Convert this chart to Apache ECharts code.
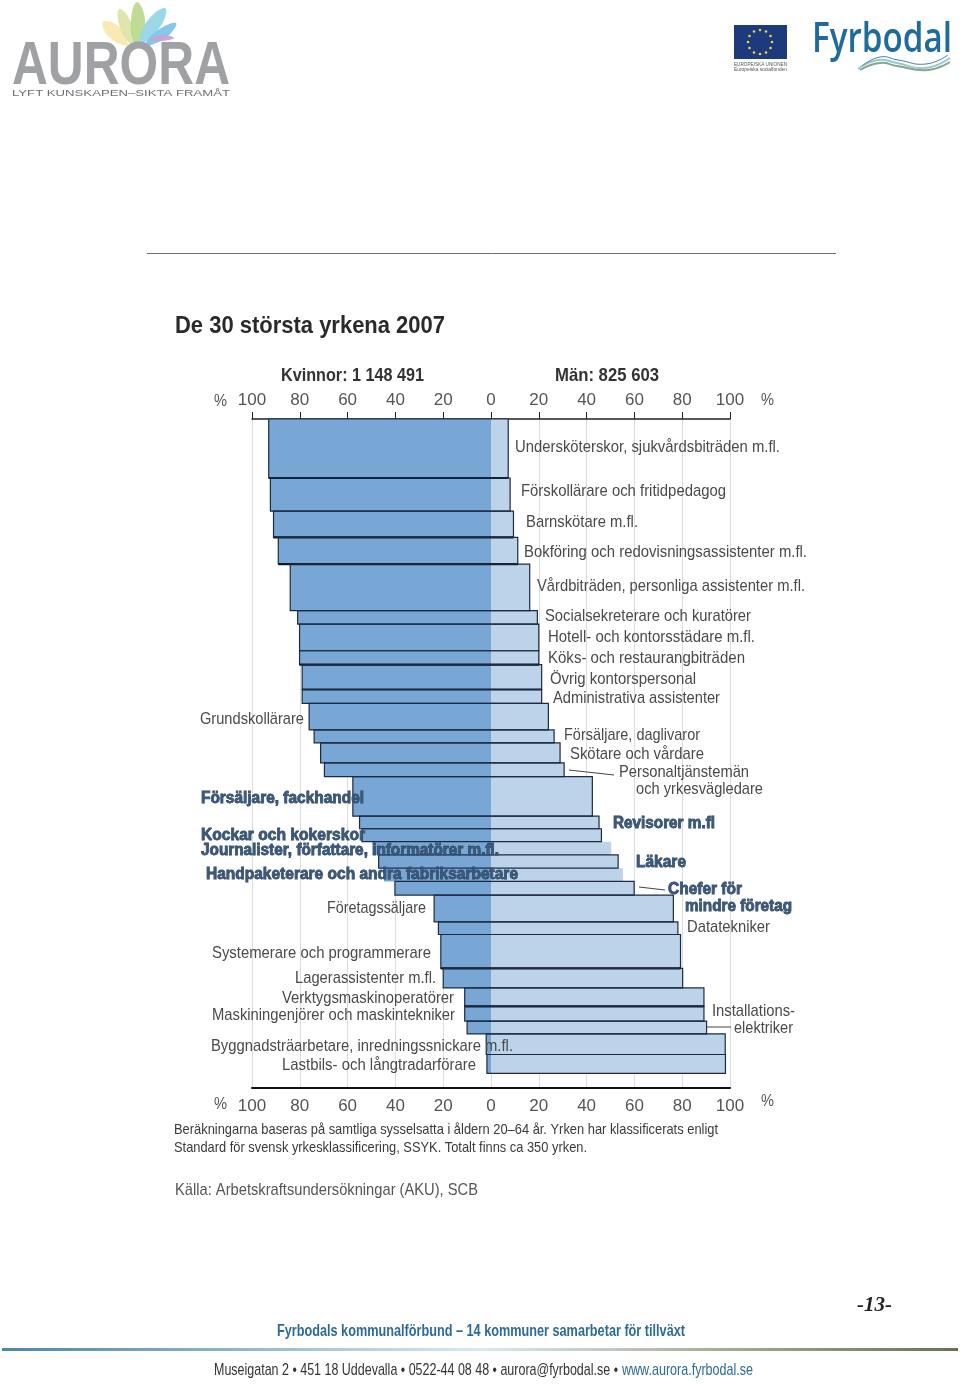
<!DOCTYPE html>
<html>
<head>
<meta charset="utf-8">
<title>De 30 största yrkena 2007</title>
<style>
html,body{margin:0;padding:0;background:#fff;}
#main{width:960px;height:1384px;}
</style>
<script src="https://cdn.jsdelivr.net/npm/echarts@6/dist/echarts.min.js"></script>
</head>
<body>
<div id="main"></div>
<script>
// yrken, uppifrån och ned
var categories = [
    'Undersköterskor, sjukvårdsbiträden m.fl.', 'Förskollärare och fritidpedagog', 'Barnskötare m.fl.',
    'Bokföring och redovisningsassistenter m.fl.', 'Vårdbiträden, personliga assistenter m.fl.',
    'Socialsekreterare och kuratörer', 'Hotell- och kontorsstädare m.fl.', 'Köks- och restaurangbiträden',
    'Övrig kontorspersonal', 'Administrativa assistenter', 'Grundskollärare', 'Försäljare, daglivaror',
    'Skötare och vårdare', 'Personaltjänstemän och yrkesvägledare', 'Försäljare, fackhandel', 'Revisorer m.fl',
    'Kockar och kokerskor', 'Journalister, författare, informatörer m.fl.', 'Läkare',
    'Handpaketerare och andra fabriksarbetare', 'Chefer för mindre företag', 'Företagssäljare', 'Datatekniker',
    'Systemerare och programmerare', 'Lagerassistenter m.fl.', 'Verktygsmaskinoperatörer',
    'Maskiningenjörer och maskintekniker', 'Installationselektriker',
    'Byggnadsträarbetare, inredningssnickare m.fl.', 'Lastbils- och långtradarförare'
];
// antal sysselsatta, tusental (radens höjd)
var employed = [178, 100, 79, 81, 140, 41, 80, 42, 75, 42, 80, 39, 60, 42, 119, 38, 39, 40, 40, 40, 41, 81, 38, 102, 59, 56, 44, 39, 62, 57];
// andel kvinnor, procent
var womenShare = [93, 92.3, 91, 89, 84, 80.9, 80.1, 80.1, 79, 79, 76.1, 74, 71.3, 69.7, 57.8, 55, 54, 49.7, 47, 44.8, 40.2, 23.8, 22, 21, 20, 11, 11, 10, 2, 1.7];
// andel män, procent
var menShare = [7.2, 8, 9.4, 11.2, 16.2, 19.4, 20, 20, 21.2, 21.2, 24, 26.4, 28.9, 30.6, 42.4, 45.2, 46.2, 50.3, 53.2, 55.2, 59.9, 76.3, 78.2, 79.3, 80.2, 89.1, 89.1, 90.2, 98, 98.1];

var noOutline = ['Journalister, författare, informatörer m.fl.', 'Handpaketerare och andra fabriksarbetare'];
var heavyBottom = ['Undersköterskor, sjukvårdsbiträden m.fl.', 'Barnskötare m.fl.', 'Bokföring och redovisningsassistenter m.fl.',
    'Köks- och restaurangbiträden', 'Övrig kontorspersonal', 'Systemerare och programmerare', 'Verktygsmaskinoperatörer'];

// text, x, y (mitt), bredd, typ
var chartLabels = [
    ['Undersköterskor, sjukvårdsbiträden m.fl.', 515, 446, 265, 'n'],
    ['Förskollärare och fritidpedagog', 521, 490, 205, 'n'],
    ['Barnskötare m.fl.', 526, 521, 112, 'n'],
    ['Bokföring och redovisningsassistenter m.fl.', 524, 551, 283, 'n'],
    ['Vårdbiträden, personliga assistenter m.fl.', 537, 585, 268, 'n'],
    ['Socialsekreterare och kuratörer', 545, 615, 206, 'n'],
    ['Hotell- och kontorsstädare m.fl.', 548, 636, 207, 'n'],
    ['Köks- och restaurangbiträden', 548, 657, 197, 'n'],
    ['Övrig kontorspersonal', 550, 678, 146, 'n'],
    ['Administrativa assistenter', 553, 697, 167, 'n'],
    ['Grundskollärare', 200, 718, 104, 'n'],
    ['Försäljare, daglivaror', 564, 734, 136, 'n'],
    ['Skötare och vårdare', 570, 753, 134, 'n'],
    ['Personaltjänstemän', 619, 771, 130, 'n'],
    ['och yrkesvägledare', 636, 788, 127, 'n'],
    ['Försäljare, fackhandel', 201, 797, 163, 'b'],
    ['Revisorer m.fl', 613, 822, 102, 'b'],
    ['Kockar och kokerskor', 201, 834, 164, 'b'],
    ['Journalister, författare, informatörer m.fl.', 201, 849, 298, 'b'],
    ['Läkare', 636, 861, 50, 'b'],
    ['Handpaketerare och andra fabriksarbetare', 206, 873, 312, 'b'],
    ['Chefer för', 668, 888, 74, 'b'],
    ['mindre företag', 685, 905, 107, 'b'],
    ['Företagssäljare', 327, 907, 99, 'n'],
    ['Datatekniker', 687, 926, 83, 'n'],
    ['Systemerare och programmerare', 212, 952, 219, 'n'],
    ['Lagerassistenter m.fl.', 295, 977, 141, 'n'],
    ['Verktygsmaskinoperatörer', 282, 997, 172, 'n'],
    ['Maskiningenjörer och maskintekniker', 212, 1014, 243, 'n'],
    ['Installations-', 712, 1010, 83, 'n'],
    ['elektriker', 734, 1027, 59, 'n'],
    ['Byggnadsträarbetare, inredningssnickare m.fl.', 211, 1045, 302, 'n'],
    ['Lastbils- och långtradarförare', 282, 1064, 194, 'n']
];

var COLOR_WOMEN = '#78a7d5';
var COLOR_MEN = '#bcd3ea';
var COLOR_EDGE = '#1c2b42';
var BASE_FONT = '"Liberation Sans", Arial, sans-serif';

var measureCtx = document.createElement('canvas').getContext('2d');
// text som får en bestämd bredd via scaleX
function fitText(text, x, y, width, font, fill, extra) {
    measureCtx.font = font;
    var el = {
        type: 'text',
        x: x,
        y: y + 1.5,
        scaleX: width / measureCtx.measureText(text).width,
        z: 50,
        style: { text: text, font: font, fill: fill, align: 'left', verticalAlign: 'middle' }
    };
    if (extra) {
        for (var k in extra) { el.style[k] = extra[k]; }
    }
    return el;
}
function petal(points, fill) {
    return { type: 'polygon', shape: { points: points, smooth: 0.45 }, z: 5, style: { fill: fill, opacity: 0.95 } };
}
function wave(points, color, width) {
    return { type: 'polyline', shape: { points: points, smooth: 0.5 }, z: 5, style: { fill: null, stroke: color, lineWidth: width } };
}
function leader(x1, y1, x2, y2) {
    return { type: 'line', z: 40, shape: { x1: x1, y1: y1, x2: x2, y2: y2 }, style: { stroke: '#444', lineWidth: 1 } };
}

var graphics = [];
// logotyp Aurora
graphics.push(petal([[125, 46], [108, 36], [103, 22], [118, 26], [128, 44]], '#f9e8ae'));
graphics.push(petal([[130, 44], [120, 28], [119, 9], [130, 20], [133, 42]], '#dbe6a9'));
graphics.push(petal([[134, 44], [131, 20], [137, 2], [145, 20], [139, 42]], '#bcd98e'));
graphics.push(petal([[139, 42], [148, 20], [165, 8], [162, 24], [143, 44]], '#97d6e6'));
graphics.push(petal([[145, 44], [158, 30], [176, 23], [168, 36], [148, 46]], '#7cc6ea'));
graphics.push(petal([[150, 39], [162, 35], [174, 38], [162, 41], [152, 41]], '#c9a3d4'));
graphics.push(fitText('AURORA', 12, 65, 218, 'bold 62px ' + BASE_FONT, '#9fa1a4'));
graphics.push(fitText('LYFT KUNSKAPEN–SIKTA FRAMÅT', 12, 92, 218, '9px ' + BASE_FONT, '#6f7073'));
// EU-flagga
graphics.push({ type: 'rect', z: 5, shape: { x: 734, y: 25, width: 53, height: 34 }, style: { fill: '#1d3a7d' } });
[[760, 30], [766, 31.5], [770.5, 36], [772, 42], [770.5, 48], [766, 52.5], [760, 54], [754, 52.5], [749.5, 48], [748, 42], [749.5, 36], [754, 31.5]].forEach(function (p) {
    graphics.push({ type: 'circle', z: 6, shape: { cx: p[0], cy: p[1], r: 1.3 }, style: { fill: '#f2d43a' } });
});
graphics.push(fitText('EUROPEISKA UNIONEN', 734, 63, 53, '5px ' + BASE_FONT, '#555'));
graphics.push(fitText('Europeiska socialfonden', 734, 68.5, 53, '5px ' + BASE_FONT, '#555'));
// Fyrbodal
graphics.push(fitText('Fyrbodal', 812, 39, 140, '600 41px "Open Sans", ' + BASE_FONT, '#1f6c9b'));
graphics.push(wave([[858, 69], [878, 60], [897, 63], [925, 68], [950, 58]], '#9cc7cf', 2));
graphics.push(wave([[860, 70], [880, 63], [897, 66], [928, 70], [950, 62]], '#7fa98f', 2));
graphics.push(wave([[862, 66], [880, 57], [898, 60], [926, 64], [948, 55]], '#3f86ad', 1));
// linje över diagrammet
graphics.push({ type: 'line', z: 5, shape: { x1: 147, y1: 253.5, x2: 836, y2: 253.5 }, style: { stroke: '#6e6e6e', lineWidth: 1 } });
// rubriker
graphics.push(fitText('De 30 största yrkena 2007', 175, 324.5, 270, 'bold 24px ' + BASE_FONT, '#2a2a2a'));
graphics.push(fitText('Kvinnor: 1 148 491', 281, 374.5, 143, 'bold 19px ' + BASE_FONT, '#333'));
graphics.push(fitText('Män: 825 603', 555, 374.5, 104, 'bold 19px ' + BASE_FONT, '#333'));
graphics.push(fitText('%', 214, 400, 13, '16px ' + BASE_FONT, '#555'));
graphics.push(fitText('%', 761, 399, 13, '16px ' + BASE_FONT, '#555'));
graphics.push(fitText('%', 214, 1103, 13, '16px ' + BASE_FONT, '#555'));
graphics.push(fitText('%', 761, 1100, 13, '16px ' + BASE_FONT, '#555'));
// etiketter
chartLabels.forEach(function (l) {
    if (l[4] === 'b') {
        graphics.push(fitText(l[0], l[1], l[2], l[3], 'bold 16px ' + BASE_FONT, '#3a5878', { stroke: '#27405e', lineWidth: 0.8 }));
    } else {
        graphics.push(fitText(l[0], l[1], l[2], l[3], '17px ' + BASE_FONT, '#4a4a4a'));
    }
});
graphics.push(leader(569, 770, 614, 775));
graphics.push(leader(639, 887, 665, 890));
graphics.push(leader(706, 1027, 731, 1027));
// fotnoter
graphics.push(fitText('Beräkningarna baseras på samtliga sysselsatta i åldern 20–64 år. Yrken har klassificerats enligt', 174, 1128.5, 544, '15px ' + BASE_FONT, '#3a3a3a'));
graphics.push(fitText('Standard för svensk yrkesklassificering, SSYK. Totalt finns ca 350 yrken.', 174, 1146.5, 413, '15px ' + BASE_FONT, '#3a3a3a'));
graphics.push(fitText('Källa: Arbetskraftsundersökningar (AKU), SCB', 175, 1189, 303, '17px ' + BASE_FONT, '#555'));
// sidfot
graphics.push(fitText('-13-', 857, 1303.5, 35, 'italic bold 22px "Liberation Serif", serif', '#222'));
graphics.push(fitText('Fyrbodals kommunalförbund – 14 kommuner samarbetar för tillväxt', 277, 1330, 408, 'bold 17px ' + BASE_FONT, '#2c6b94'));
graphics.push({
    type: 'rect', z: 5,
    shape: { x: 2, y: 1348, width: 956, height: 3 },
    style: { fill: { type: 'linear', x: 0, y: 0, x2: 1, y2: 0, colorStops: [
        { offset: 0, color: '#4c86ab' }, { offset: 0.25, color: '#8fb6cd' }, { offset: 0.5, color: '#dce8ee' },
        { offset: 0.75, color: '#a3ad98' }, { offset: 1, color: '#66705a' }] } }
});
graphics.push(fitText('Museigatan 2 • 451 18 Uddevalla • 0522-44 08 48 • aurora@fyrbodal.se •', 214, 1369, 404, '17px ' + BASE_FONT, '#333'));
graphics.push(fitText('www.aurora.fyrbodal.se', 622, 1369, 131, '17px ' + BASE_FONT, '#2c6b94'));

// radernas startläge räknas fram ur antalet sysselsatta
var rowData = [];
var totalEmployed = 0;
employed.forEach(function (v, i) {
    rowData.push([totalEmployed, v, womenShare[i], menShare[i], categories[i]]);
    totalEmployed += v;
});

function rowShape(api, from, to) {
    var a = api.coord([from, api.value(0)]);
    var b = api.coord([to, api.value(0) + api.value(1)]);
    return { x: a[0], y: a[1], width: b[0] - a[0], height: b[1] - a[1] };
}
function renderWomen(params, api) {
    return { type: 'rect', shape: rowShape(api, -api.value(2), 0), style: { fill: COLOR_WOMEN } };
}
function renderMen(params, api) {
    return { type: 'rect', shape: rowShape(api, 0, api.value(3)), style: { fill: COLOR_MEN } };
}
function renderEdge(params, api) {
    var name = rowData[params.dataIndex][4];
    if (noOutline.indexOf(name) >= 0) {
        return null;
    }
    var box = rowShape(api, -api.value(2), api.value(3));
    var parts = [{ type: 'rect', shape: box, style: { fill: 'none', stroke: COLOR_EDGE, lineWidth: 1.2 } }];
    if (heavyBottom.indexOf(name) >= 0) {
        parts.push({
            type: 'line',
            shape: { x1: box.x, y1: box.y + box.height, x2: box.x + box.width, y2: box.y + box.height },
            style: { stroke: '#111a2a', lineWidth: 2.2 }
        });
    }
    return { type: 'group', children: parts };
}
function absTick(value) {
    return Math.abs(value);
}

var option = {
    animation: false,
    backgroundColor: '#fff',
    grid: { left: 252, right: 230, top: 419, bottom: 296, containLabel: false },
    xAxis: [{
        type: 'value', position: 'top', min: -100, max: 100, interval: 20,
        axisLine: { show: true, onZero: false, lineStyle: { color: '#222', width: 1.5 } },
        axisTick: { show: true, length: 7, lineStyle: { color: '#222', width: 1 } },
        axisLabel: { fontFamily: BASE_FONT, fontSize: 17, color: '#555', margin: 10, formatter: absTick },
        splitLine: { show: true, lineStyle: { color: '#dcdcdc', width: 1 } }
    }, {
        type: 'value', position: 'bottom', min: -100, max: 100, interval: 20,
        axisLine: { show: true, onZero: false, lineStyle: { color: '#111', width: 2 } },
        axisTick: { show: false },
        axisLabel: { fontFamily: BASE_FONT, fontSize: 17, color: '#555', margin: 10, formatter: absTick },
        splitLine: { show: false }
    }],
    yAxis: {
        type: 'value', inverse: true, min: 0, max: Math.round(totalEmployed * 1.0225),
        axisLine: { show: false }, axisTick: { show: false }, axisLabel: { show: false }, splitLine: { show: false }
    },
    series: [
        { type: 'custom', name: 'Kvinnor', renderItem: renderWomen, data: rowData, encode: { x: 2, y: 0 }, z: 2 },
        { type: 'custom', name: 'Män', renderItem: renderMen, data: rowData, encode: { x: 3, y: 0 }, z: 2 },
        { type: 'custom', name: 'Kant', renderItem: renderEdge, data: rowData, encode: { x: 2, y: 0 }, z: 3 }
    ],
    graphic: { elements: graphics }
};

var chart = echarts.init(document.getElementById('main'), null, { renderer: 'canvas' });
chart.setOption(option);
window.addEventListener('resize', function () {
    chart.resize();
});
</script>
</body>
</html>
